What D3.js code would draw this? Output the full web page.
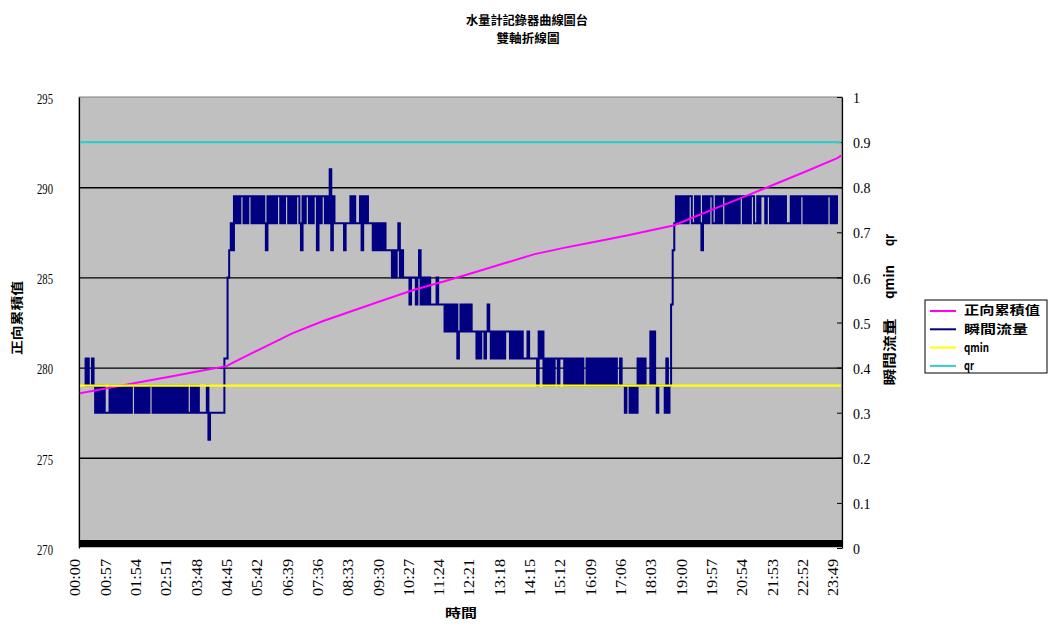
<!DOCTYPE html>
<html><head><meta charset="utf-8">
<script src="https://cdn.jsdelivr.net/npm/d3@7"></script>
<style>body{margin:0;background:#fff}svg{display:block}</style>
</head><body>
<svg id="chart" width="1056" height="626"></svg>
<script>
// ---------- data ----------
const titleLines = ["水量計記錄器曲線圖台", "雙軸折線圖"];
const timeLabels = ["00:00","00:57","01:54","02:51","03:48","04:45","05:42","06:39","07:36","08:33",
  "09:30","10:27","11:24","12:21","13:18","14:15","15:12","16:09","17:06","18:03",
  "19:00","19:57","20:54","21:53","22:52","23:49"];
const leftTicks = [270, 275, 280, 285, 290, 295];
const rightTicks = [0, 0.1, 0.2, 0.3, 0.4, 0.5, 0.6, 0.7, 0.8, 0.9, 1];
const seriesNames = ["正向累積值", "瞬間流量", "qmin", "qr"];
// 瞬間流量 read every 3 samples; each letter is one reading level, '-' = no reading
const flowLevelCodes = "abcdefghijk";
const flowLevels = [0.24, 0.30, 0.36, 0.42, 0.48, 0.54, 0.60, 0.66, 0.72, 0.78, 0.84];
const flowCodes = [
  "---dcdccdc bcbcbcbbb",
  "cbcbcbcbcbcbcbccbcb",
  "cbcbcbccbcbcbcbcbcb",
  "cbcbcbcbcbcbbcbcbcb",
  "bbbb cab bbbbbbbb dd gh",
  "ihjijijjijijjijijij",
  "ijihjijijijjijijjij",
  "ijijjihjijjijijjhji",
  "jjijikhji iiiiihiii j",
  "ijiiijhjijiiihihihi",
  "hihhhhghghighggggfg",
  "ggfghfgfgfgffffgfff",
  "fefefefefdefefefefe",
  "eedede edef edededede",
  "deee dededede ddd e ddd",
  "dd c ede cdcdcdcd d c ddd",
  "cdcdcdcdcdcdc c dcdcd",
  "cdcdcdcdcdcdcdc c d cc",
  "bcc bcbcb dcdcd ccc ece",
  "cbcccc bdb c fh ijijiji",
  "jijj iijiji h jiji jji i",
  "jijij j ijijijijij jij",
  "iji jji iji jjj ijj ijij",
  "ijijij iii jijijij j ij",
  "ijijijijijijij j ijij",
  "i--"
];
// 正向累積值 readings (sample index, value)
const cumIndex  = [0, 19, 38, 57, 76, 92, 95, 114, 133, 152, 171, 190, 209, 228, 247, 266, 285, 304, 323, 342, 361, 372, 380, 399, 418, 437, 456, 475, 477];
const cumValues = [278.58, 278.89, 279.20, 279.51, 279.82, 280.08, 280.24, 281.07, 281.90, 282.57, 283.15, 283.73, 284.30, 284.77, 285.27, 285.78, 286.29, 286.65, 286.98, 287.31, 287.67, 287.88, 288.17, 288.85, 289.53, 290.22, 290.91, 291.63, 291.75];
const qminValue = 0.36;
const qrValue = 0.9;

// ---------- decode ----------
const flowValues = flowCodes.join("").replace(/\s/g, "").split("").map(ch => {
  const k = flowLevelCodes.indexOf(ch);
  return k < 0 ? null : flowLevels[k];
});
const N = flowValues.length;
const labelStep = 19;

// ---------- layout ----------
const svg = d3.select("#chart");
const P = {l: 79, r: 842, t: 97, b: 548};
const x = d3.scaleLinear().domain([0, N - 1]).range([80, 841]);
const yL = d3.scaleLinear().domain([270, 295]).range([P.b, P.t]);
const yR = d3.scaleLinear().domain([0, 1]).range([P.b, P.t]);
const cjk = "'Noto Sans CJK TC','Noto Sans CJK SC',sans-serif";
const num = "'Liberation Serif','DejaVu Serif',serif";

// plot background
svg.append("rect").attr("x", P.l).attr("y", P.t).attr("width", P.r - P.l).attr("height", P.b - P.t - 1)
  .attr("fill", "#C0C0C0").attr("stroke", "#808080").attr("stroke-width", 1);

// gridlines
const grid = svg.append("g").attr("transform", `translate(${P.l},0)`)
  .call(d3.axisLeft(yL).tickValues(leftTicks.slice(1, -1)).tickSize(-(P.r - P.l)).tickFormat(""));
grid.select(".domain").remove();
grid.selectAll("line").attr("stroke", "#000").attr("stroke-width", 1.4);

// thick bottom edge
svg.append("rect").attr("x", P.l).attr("y", 540).attr("width", P.r - P.l + 1).attr("height", 7).attr("fill", "#000");

// left axis
const ga = svg.append("g").attr("transform", `translate(${P.l},0)`)
  .call(d3.axisLeft(yL).tickValues(leftTicks).tickSize(0).tickPadding(26));
ga.select(".domain").attr("stroke", "#000").attr("stroke-width", 1.2);
ga.selectAll("text").attr("font-family", num).attr("font-size", 14).attr("fill", "#000")
  .attr("dy", "0.45em").attr("textLength", 16).attr("lengthAdjust", "spacingAndGlyphs");

// right axis
const gr = svg.append("g").attr("transform", `translate(${P.r},0)`)
  .call(d3.axisRight(yR).tickValues(rightTicks).tickSizeInner(-5).tickSizeOuter(0).tickPadding(11)
    .tickFormat(d => (d === 0 || d === 1) ? String(d) : d3.format(".1f")(d)));
gr.select(".domain").attr("stroke", "#000").attr("stroke-width", 1.2);
gr.selectAll("line").attr("stroke", "#000");
gr.selectAll("text").attr("font-family", num).attr("font-size", 14).attr("fill", "#000").attr("dy", "0.4em");

// x labels
svg.append("g").selectAll("text").data(timeLabels).join("text")
  .attr("transform", (d, i) => `translate(${x(i * labelStep) - 4.5},559) rotate(-90)`)
  .attr("text-anchor", "end").attr("dy", "0.35em")
  .attr("font-family", num).attr("font-size", 14).attr("fill", "#000")
  .attr("textLength", 37).attr("lengthAdjust", "spacingAndGlyphs")
  .text(d => d);

// series
const flowLine = d3.line().defined(d => d != null).curve(d3.curveStep).x((d, i) => x(i)).y(d => yR(d));
svg.append("path").datum(flowValues).attr("d", flowLine)
  .attr("fill", "none").attr("stroke", "#000080").attr("stroke-width", 2).attr("stroke-linejoin", "miter");

const cumLine = d3.line().x(d => x(d[0])).y(d => yL(d[1]));
svg.append("path").datum(cumIndex.map((k, i) => [k, cumValues[i]])).attr("d", cumLine)
  .attr("fill", "none").attr("stroke", "#FF00FF").attr("stroke-width", 2);

const flatLine = d3.line().x(d => x(d[0])).y(d => yR(d[1]));
svg.append("path").datum([[0, qminValue], [N - 1, qminValue]]).attr("d", flatLine)
  .attr("fill", "none").attr("stroke", "#FFFF00").attr("stroke-width", 2.2);
svg.append("path").datum([[0, qrValue], [N - 1, qrValue]]).attr("d", flatLine)
  .attr("fill", "none").attr("stroke", "#33CCCC").attr("stroke-width", 2.2);

// titles
const tl = [{t: titleLines[0], x: 527, y: 21, len: 122}, {t: titleLines[1], x: 528, y: 39, len: 63}];
svg.selectAll(".title").data(tl).join("text").attr("class", "title")
  .attr("x", d => d.x).attr("y", d => d.y).attr("dy", "0.35em").attr("text-anchor", "middle")
  .attr("font-family", cjk).attr("font-weight", "bold").attr("font-size", 12).attr("fill", "#000")
  .attr("textLength", d => d.len).attr("lengthAdjust", "spacingAndGlyphs").text(d => d.t);

svg.append("text").attr("transform", "translate(18,318) rotate(-90)").attr("text-anchor", "middle").attr("dy", "0.35em")
  .attr("font-family", cjk).attr("font-weight", "bold").attr("font-size", 12)
  .attr("textLength", 74).attr("lengthAdjust", "spacingAndGlyphs").text(seriesNames[0]);

const rt = [{t: seriesNames[1], y: 352, len: 67}, {t: seriesNames[2], y: 282, len: 34}, {t: seriesNames[3], y: 240, len: 12}];
svg.selectAll(".rtitle").data(rt).join("text").attr("class", "rtitle")
  .attr("transform", d => `translate(889,${d.y}) rotate(-90)`).attr("text-anchor", "middle").attr("dy", "0.35em")
  .attr("font-family", cjk).attr("font-weight", "bold").attr("font-size", 13)
  .attr("textLength", d => d.len).attr("lengthAdjust", "spacingAndGlyphs").text(d => d.t);

svg.append("text").attr("x", 461).attr("y", 614).attr("dy", "0.35em").attr("text-anchor", "middle")
  .attr("font-family", cjk).attr("font-weight", "bold").attr("font-size", 12)
  .attr("textLength", 32).attr("lengthAdjust", "spacingAndGlyphs").text("時間");

// legend
const legColors = ["#FF00FF", "#000080", "#FFFF00", "#33CCCC"];
const legLens = [76, 64, 25, 10];
const lg = svg.append("g");
lg.append("rect").attr("x", 925).attr("y", 300).attr("width", 122).attr("height", 73)
  .attr("fill", "#fff").attr("stroke", "#000").attr("stroke-width", 1);
const items = lg.selectAll(".li").data(seriesNames).join("g").attr("class", "li")
  .attr("transform", (d, i) => `translate(0,${311 + i * 18.3})`);
items.append("line").attr("x1", 930).attr("x2", 956).attr("stroke", (d, i) => legColors[i]).attr("stroke-width", 2);
items.append("text").attr("x", 964).attr("dy", "0.35em")
  .attr("font-family", cjk).attr("font-weight", "bold").attr("font-size", 12)
  .attr("textLength", (d, i) => legLens[i]).attr("lengthAdjust", "spacingAndGlyphs").text(d => d);
</script>
</body></html>
